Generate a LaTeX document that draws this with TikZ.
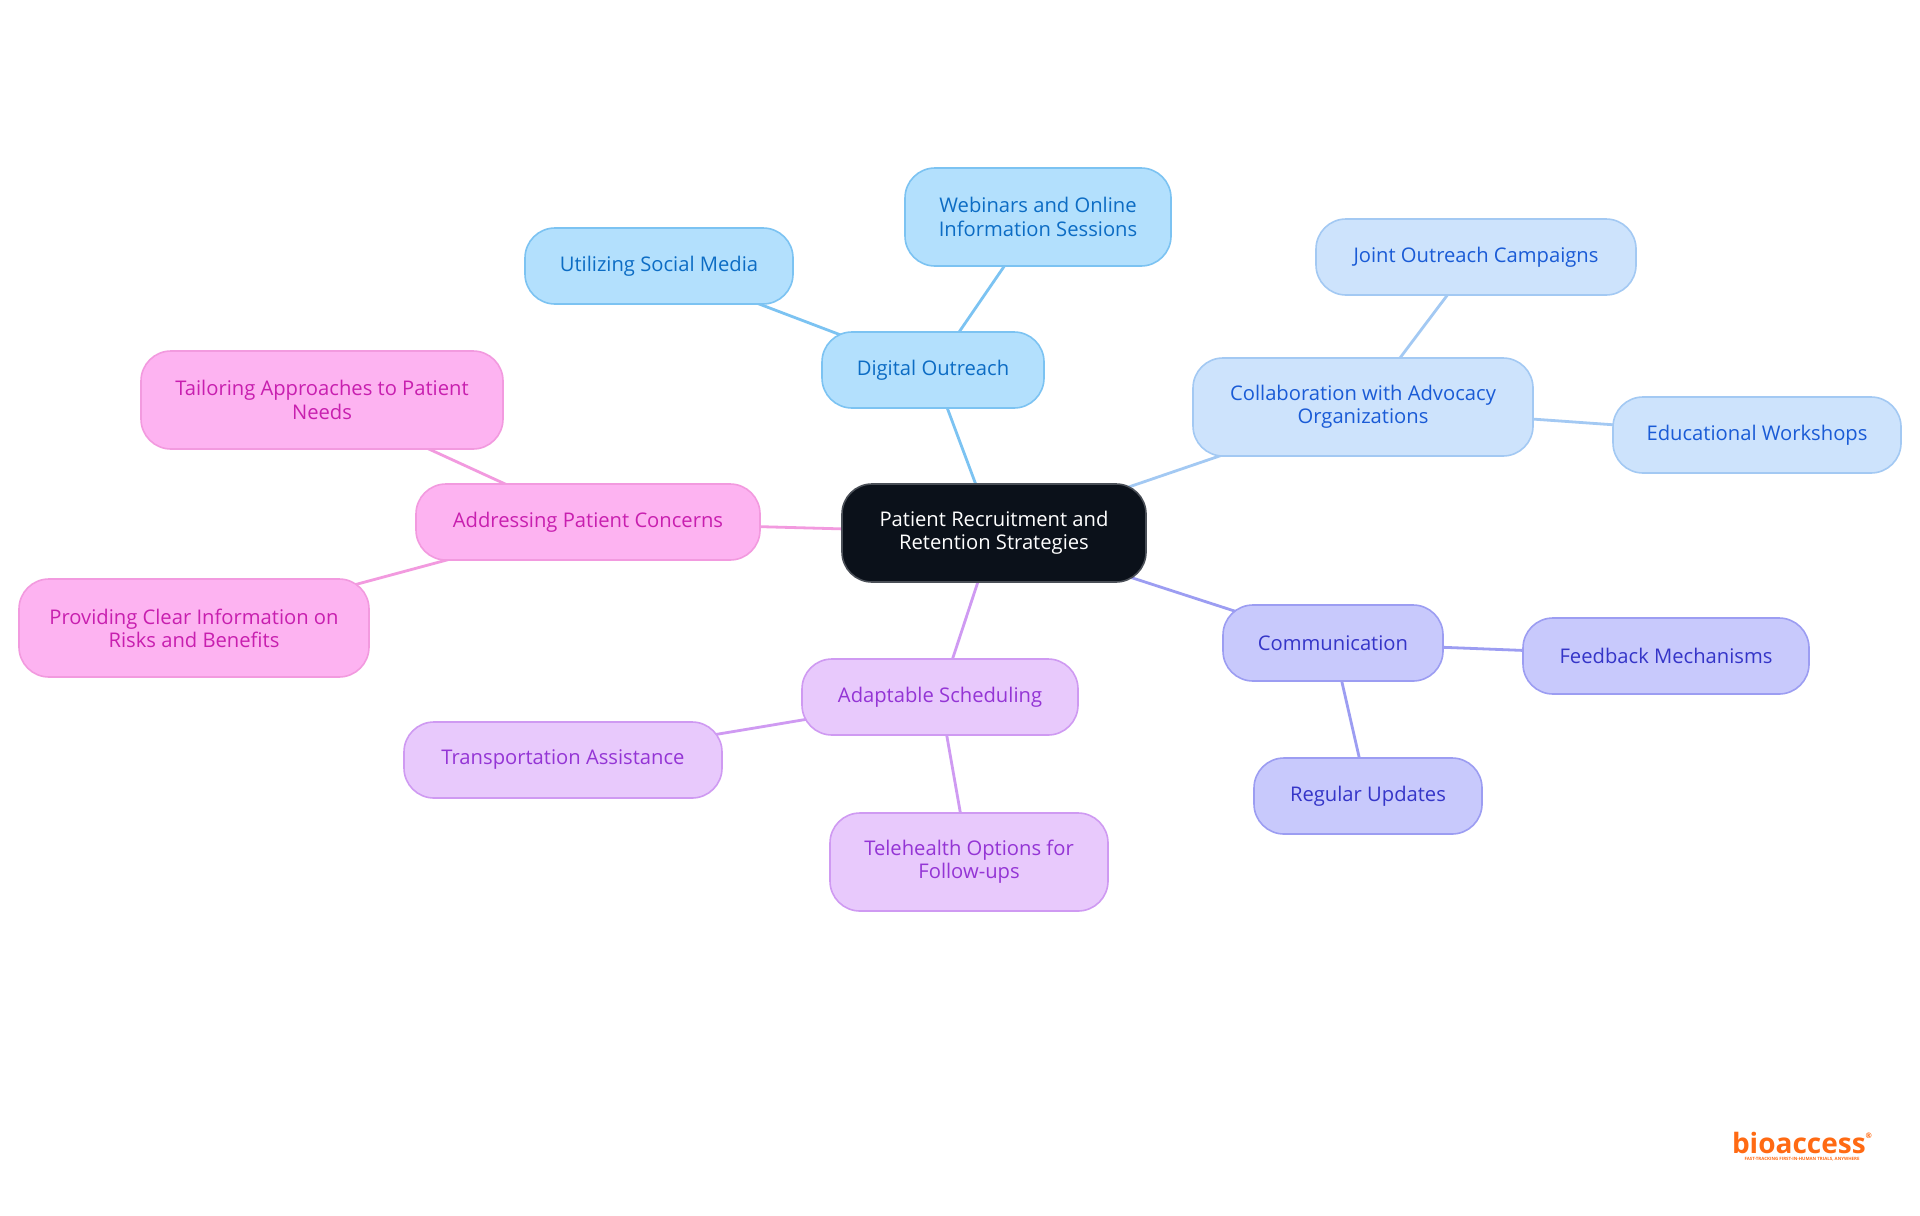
\documentclass[tikz,border=0pt]{standalone}
\usepackage{fontspec}
\setmainfont{Open Sans}
\usetikzlibrary{positioning}

\definecolor{rootfill}{HTML}{0B111A}
\definecolor{rootline}{HTML}{4A4F57}
\definecolor{digfill}{HTML}{B3E0FD}
\definecolor{digline}{HTML}{7CC3F2}
\definecolor{digtext}{HTML}{0C6CC4}
\definecolor{colfill}{HTML}{CDE3FC}
\definecolor{colline}{HTML}{A3C9F3}
\definecolor{coltext}{HTML}{1A5BD6}
\definecolor{comfill}{HTML}{C8C9FC}
\definecolor{comline}{HTML}{9C9DF2}
\definecolor{comtext}{HTML}{3535C8}
\definecolor{adafill}{HTML}{E8C9FC}
\definecolor{adaline}{HTML}{CF9AF2}
\definecolor{adatext}{HTML}{9435D5}
\definecolor{addfill}{HTML}{FDB3F1}
\definecolor{addline}{HTML}{F29ADF}
\definecolor{addtext}{HTML}{C81FAF}
\definecolor{logo}{HTML}{FF6A13}

\pgfdeclarelayer{back}
\pgfsetlayers{back,main}

\tikzset{
	box/.style={rectangle, rounded corners=15pt, line width=0.8pt, align=center, inner xsep=0pt, minimum height=38pt, font=\fontsize{10.1}{11.6}\selectfont},
	tallbox/.style={box, minimum height=49pt},
	rootbox/.style={tallbox, fill=rootfill, draw=rootline, text=white},
	digbox/.style={fill=digfill, draw=digline, text=digtext},
	colbox/.style={fill=colfill, draw=colline, text=coltext},
	combox/.style={fill=comfill, draw=comline, text=comtext},
	adabox/.style={fill=adafill, draw=adaline, text=adatext},
	addbox/.style={fill=addfill, draw=addline, text=addtext},
	link/.style={line width=1.4pt}
}

\begin{document}
\begin{tikzpicture}[x=0.5pt, y=-0.5pt]
	\useasboundingbox (0,0) rectangle (1920,1215);

	\node[rootbox, minimum width=152pt] (root) at (994,533) {Patient Recruitment and\\Retention Strategies};

	\node[box, digbox, minimum width=111pt] (dig) at (933,370) {Digital Outreach};
	\node[box, digbox, minimum width=134pt] (soc) at (659,266) {Utilizing Social Media};
	\node[tallbox, digbox, minimum width=133pt] (web) at (1038,217) {Webinars and Online\\Information Sessions};

	\node[tallbox, colbox, minimum width=170pt] (col) at (1363,407) {Collaboration with Advocacy\\Organizations};
	\node[box, colbox, minimum width=160pt] (joint) at (1476,257) {Joint Outreach Campaigns};
	\node[box, colbox, minimum width=144pt] (edu) at (1757,435) {Educational Workshops};

	\node[box, combox, minimum width=110pt] (com) at (1333,643) {Communication};
	\node[box, combox, minimum width=143pt] (feed) at (1666,656) {Feedback Mechanisms};
	\node[box, combox, minimum width=114pt] (reg) at (1368,796) {Regular Updates};

	\node[box, adabox, minimum width=138pt] (ada) at (940,697) {Adaptable Scheduling};
	\node[box, adabox, minimum width=159pt] (trans) at (563,760) {Transportation Assistance};
	\node[tallbox, adabox, minimum width=139pt] (tele) at (969,862) {Telehealth Options for\\Follow-ups};

	\node[box, addbox, minimum width=172pt] (addr) at (588,522) {Addressing Patient Concerns};
	\node[tallbox, addbox, minimum width=181pt] (tail) at (322,400) {Tailoring Approaches to Patient\\Needs};
	\node[tallbox, addbox, minimum width=175pt] (prov) at (194,628) {Providing Clear Information on\\Risks and Benefits};

	% links run centre to centre, hidden under the boxes
	\begin{pgfonlayer}{back}
		\fill[white] (0,0) rectangle (1920,1215);
		\draw[link, digline] (root.center) -- (dig.center);
		\draw[link, digline] (dig.center) -- (soc.center);
		\draw[link, digline] (dig.center) -- (web.center);
		\draw[link, colline] (root.center) -- (col.center);
		\draw[link, colline] (col.center) -- (joint.center);
		\draw[link, colline] (col.center) -- (edu.center);
		\draw[link, comline] (root.center) -- (com.center);
		\draw[link, comline] (com.center) -- (feed.center);
		\draw[link, comline] (com.center) -- (reg.center);
		\draw[link, adaline] (root.center) -- (ada.center);
		\draw[link, adaline] (ada.center) -- (trans.center);
		\draw[link, adaline] (ada.center) -- (tele.center);
		\draw[link, addline] (root.center) -- (addr.center);
		\draw[link, addline] (addr.center) -- (tail.center);
		\draw[link, addline] (addr.center) -- (prov.center);
	\end{pgfonlayer}

	% logo
	\node[text=logo, font=\fontsize{14}{15}\selectfont\bfseries, inner sep=0pt] (brand) at (1802,1143) {bioaccess\raisebox{0.55em}{\fontsize{3.8}{4}\selectfont\textregistered}};
	\node[text=logo, font=\fontsize{2.2}{2.5}\selectfont\bfseries, inner sep=0pt, below=1.4pt of brand.south] (tagline) {FAST-TRACKING FIRST-IN-HUMAN TRIALS, ANYWHERE};
\end{tikzpicture}
\end{document}
